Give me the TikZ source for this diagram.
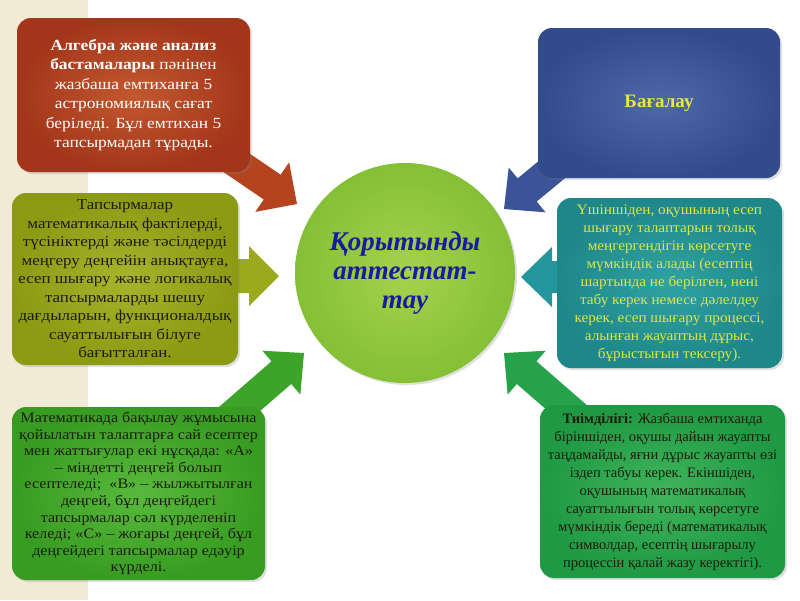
\documentclass[tikz,border=0pt]{standalone}
\usepackage{fontspec}
\setmainfont{Liberation Serif}
\newfontfamily\wideA[FakeStretch=1.12]{Liberation Serif}
\newfontfamily\wideB[FakeStretch=1.13]{Liberation Serif}
\newfontfamily\wideC[FakeStretch=1.11]{Liberation Serif}
\newfontfamily\wideD[FakeStretch=1.05]{Liberation Serif}
\usetikzlibrary{calc,shadows}
\definecolor{beige}{HTML}{F2EAD4}
\definecolor{redout}{HTML}{A3361A}
\definecolor{redin}{HTML}{C2582F}
\definecolor{redarr}{HTML}{B4441E}
\definecolor{olout}{HTML}{8A9A12}
\definecolor{olin}{HTML}{A6B42C}
\definecolor{olarr}{HTML}{9AAA1C}
\definecolor{grout}{HTML}{389C22}
\definecolor{grin}{HTML}{58BA3C}
\definecolor{grarr}{HTML}{3DA42A}
\definecolor{blout}{HTML}{314B8B}
\definecolor{blin}{HTML}{4E68AA}
\definecolor{blarr}{HTML}{3A5497}
\definecolor{teout}{HTML}{1E878A}
\definecolor{tein}{HTML}{30A2A2}
\definecolor{tearr}{HTML}{24959A}
\definecolor{g2out}{HTML}{1F9944}
\definecolor{g2in}{HTML}{40B45C}
\definecolor{g2arr}{HTML}{26A24A}
\definecolor{ciout}{HTML}{84C036}
\definecolor{ciin}{HTML}{A6D24C}
\definecolor{cittext}{HTML}{1A1AA0}
\definecolor{yel}{HTML}{E8E83C}
\definecolor{yel2}{HTML}{DCE64A}
\definecolor{dark}{HTML}{1C1C0C}
\newcommand{\myblockarrow}[6]{%
  \coordinate (#2-b) at ($(#2)!#5!(#1)$);
  \fill[#6] ($(#1)!#3!90:(#2)$) -- ($(#2-b)!#3!90:(#2)$) -- ($(#2-b)!#4!90:(#2)$) -- (#2)
    -- ($(#2-b)!#4!-90:(#2)$) -- ($(#2-b)!#3!-90:(#2)$) -- ($(#1)!#3!-90:(#2)$) -- cycle;}
\tikzset{
  infobox/.style={rounded corners=14pt, align=center, inner sep=4pt,
    drop shadow={opacity=0.25, shadow xshift=2pt, shadow yshift=-2pt}},
  txtA/.style={font=\wideA\fontsize{15.5}{19.5}\selectfont},
  txtB/.style={font=\wideB\fontsize{15}{18.5}\selectfont},
  txtC/.style={font=\wideC\fontsize{14.5}{16.6}\selectfont},
  txtD/.style={font=\wideD\fontsize{14.5}{18}\selectfont},
  txtE/.style={font=\fontsize{14.5}{18}\selectfont},
}
\begin{document}
\begin{tikzpicture}[x=1pt,y=-1pt]
\useasboundingbox (0,0) rectangle (800,600);
\fill[white] (0,0) rectangle (800,600);
\fill[beige] (0,0) rectangle (88,600);

% arrow coordinates
\coordinate (t1) at (206,142); \coordinate (h1) at (297,204);
\coordinate (t2) at (589,139); \coordinate (h2) at (504,209);
\coordinate (t3) at (215,276); \coordinate (h3) at (279,276);
\coordinate (t4) at (585,277); \coordinate (h4) at (521,277);
\coordinate (t5) at (213,432); \coordinate (h5) at (304,353);
\coordinate (t6) at (595,432); \coordinate (h6) at (504,353);

\myblockarrow{t1}{h1}{15pt}{30pt}{30pt}{redarr}
\myblockarrow{t2}{h2}{15pt}{29pt}{30pt}{blarr}
\myblockarrow{t3}{h3}{17pt}{30pt}{30pt}{olarr}
\myblockarrow{t4}{h4}{16pt}{30pt}{31pt}{tearr}
\myblockarrow{t5}{h5}{15pt}{29pt}{30pt}{grarr}
\myblockarrow{t6}{h6}{15pt}{29pt}{30pt}{g2arr}

% boxes
\node[infobox, minimum width=233pt, minimum height=154pt, inner color=redin, outer color=redout,
  txtA, text=white] (b1) at (133.5,95)
  {\textbf{Алгебра және анализ}\\ \textbf{бастамалары} пәнінен\\ жазбаша емтиханға 5\\
   астрономиялық сағат\\ беріледі. Бұл емтихан 5\\ тапсырмадан тұрады.};

\node[infobox, minimum width=226pt, minimum height=172pt, inner color=olin, outer color=olout,
  txtB, text=dark] (b2) at (125,279)
  {Тапсырмалар\\ математикалық фактілерді,\\ түсініктерді және тәсілдерді\\
   меңгеру деңгейін анықтауға,\\ есеп шығару және логикалық\\ тапсырмаларды шешу\\
   дағдыларын, функционалдық\\ сауаттылығын білуге\\ бағытталған.};

\node[infobox, minimum width=253pt, minimum height=173pt, inner color=grin, outer color=grout,
  txtC, text=dark] (b3) at (138.5,493.5)
  {Математикада бақылау жұмысына\\ қойылатын талаптарға сай есептер\\
   мен жаттығулар екі нұсқада: «А»\\ – міндетті деңгей болып\\
   есептеледі;~ «В» – жылжытылған\\ деңгей, бұл деңгейдегі\\
   тапсырмалар сәл күрделеніп\\ келеді; «С» – жоғары деңгей, бұл\\
   деңгейдегі тапсырмалар едәуір\\ күрделі.};

\node[infobox, minimum width=242pt, minimum height=150pt, inner color=blin, outer color=blout,
  font=\fontsize{19}{22}\selectfont\bfseries, text=yel] (b4) at (659,103) {Бағалау};

\node[infobox, minimum width=225pt, minimum height=170pt, inner color=tein, outer color=teout,
  txtD, text=yel2] (b5) at (669.5,283)
  {Үшіншіден, оқушының есеп\\ шығару талаптарын толық\\ меңгергендігін көрсетуге\\
   мүмкіндік алады (есептің\\ шартында не берілген, нені\\ табу керек немесе дәлелдеу\\
   керек, есеп шығару процессі,\\ алынған жауаптың дұрыс,\\ бұрыстығын тексеру).};

\node[infobox, minimum width=245pt, minimum height=173pt, inner color=g2in, outer color=g2out,
  txtE, text=dark] (b6) at (662.5,491.5)
  {\textbf{Тиімділігі:} Жазбаша емтиханда\\ біріншіден, оқушы дайын жауапты\\
   таңдамайды, яғни дұрыс жауапты өзі\\ іздеп табуы керек. Екіншіден,\\
   оқушының математикалық\\ сауаттылығын толық көрсетуге\\
   мүмкіндік береді (математикалық\\ символдар, есептің шығарылу\\
   процессін қалай жазу керектігі).};

% centre circle
\node[circle, minimum size=220pt, inner sep=0pt, inner color=ciin, outer color=ciout,
  drop shadow={opacity=0.25, shadow xshift=2pt, shadow yshift=-2pt},
  align=center, text=cittext, font=\fontsize{27}{29}\selectfont\bfseries\itshape] (c) at (405,273)
  {Қорытынды\\ аттестат-\\ тау};
\end{tikzpicture}
\end{document}
